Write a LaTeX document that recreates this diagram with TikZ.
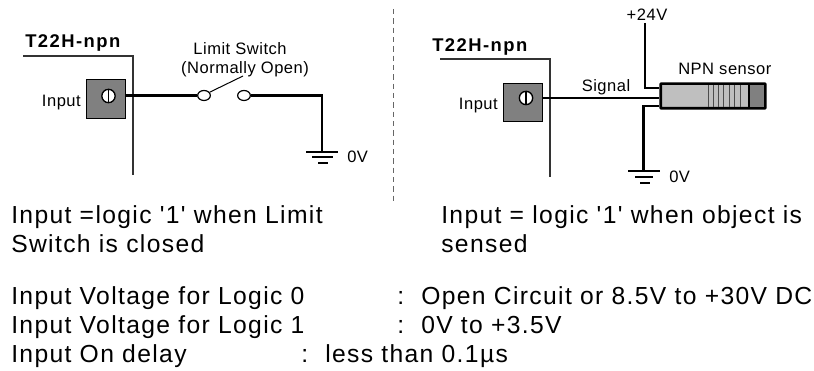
\documentclass[tikz,border=0pt]{standalone}
\usepackage{fontspec}
\setmainfont{Liberation Sans}
\newfontfamily\bodyfont[LetterSpace=5.5]{Liberation Sans}
\newfontfamily\labelfont[LetterSpace=3]{Liberation Sans}
\newfontfamily\titlefont[LetterSpace=8]{Liberation Sans}
\usetikzlibrary{arrows,shapes.geometric}
\tikzset{
  wire/.style={line width=2pt},
  case line/.style={line width=1pt,black!80},
  bar/.style={line width=1.5pt},
  contact/.style={ellipse,draw,line width=0.9pt,fill=white,inner sep=0pt,minimum width=9.5pt,minimum height=7.5pt},
  screw/.style={circle,draw,line width=1pt,fill=white,inner sep=0pt,minimum size=10pt},
  terminal/.style={rectangle,draw,line width=0.5pt,fill=gray,inner sep=0pt,minimum size=29pt},
  small label/.style={font=\labelfont\fontsize{12.4}{15}\selectfont,inner sep=0pt},
  title label/.style={font=\titlefont\fontsize{13.8}{18}\selectfont\bfseries,inner sep=0pt,anchor=base west},
  body label/.style={font=\bodyfont\fontsize{18.5}{24}\selectfont,inner sep=0pt,anchor=base west}
}
\begin{document}
\begin{tikzpicture}[line cap=butt,line join=miter,x=0.75pt,y=0.75pt]
    \useasboundingbox (0.,0.) rectangle (814.,371.);
    % left circuit
    \node[title label] (titleL) at (25.,323.) {T22H-npn};
    \coordinate (caseLa) at (23.,315.);
    \coordinate (caseLb) at (133.,315.);
    \coordinate (caseLc) at (133.,196.);
    \draw [case line] (caseLa)-- (caseLb)-- (caseLc);
    \node[terminal] (termL) at (105.5,272.) {};
    \node[screw] (screwL) at (108.5,275.) {};
    \draw [line width=1.4pt] (screwL.north)-- (screwL.south);
    \node[small label,anchor=east] (inputL) at (81.,268.) {Input};
    \node[contact] (contactA) at (204.,275.5) {};
    \node[contact] (contactB) at (244.,275.5) {};
    \coordinate (blade) at (243.,295.);
    \draw [line width=0.75pt] (contactA.30)-- (blade);
    \node[small label] (switchA) at (240.,322.) {Limit Switch};
    \node[small label] (switchB) at (245.,302.) {(Normally Open)};
    \coordinate (gndLt) at (322.,275.5);
    \coordinate (gndL) at (322.,219.);
    \draw [wire] (termL.east |- contactA)-- (contactA);
    \draw [wire] (contactB)-- (gndLt)-- (gndL);
    \draw [bar] (306.,219.)-- (338.,219.);
    \draw [bar] (312.,214.)-- (333.,214.);
    \draw [wire] (318.,208.)-- (328.,208.);
    \node[small label,anchor=base west] (zeroL) at (347.,208.) {0V};
    % divider
    \coordinate (divA) at (393.,362.);
    \coordinate (divB) at (393.,168.);
    \draw [line width=0.6pt,dash pattern=on 4pt off 3pt,gray!80!black] (divA)-- (divB);
    % right circuit
    \node[title label] (titleR) at (432.,319.) {T22H-npn};
    \coordinate (caseRa) at (440.,312.);
    \coordinate (caseRb) at (550.,312.);
    \coordinate (caseRc) at (550.,194.);
    \draw [case line] (caseRa)-- (caseRb)-- (caseRc);
    \node[terminal] (termR) at (522.5,268.5) {};
    \node[screw] (screwR) at (526.,273.) {};
    \draw [line width=1.4pt] (screwR.north)-- (screwR.south);
    \node[small label,anchor=east] (inputR) at (498.,265.) {Input};
    % sensor body
    \node[rectangle,draw,line width=2pt,rounded corners=0.5pt,fill=gray!50,minimum width=78.5pt,minimum height=18.5pt,inner sep=0pt] (sensor) at (713.,275.) {};
    \fill [gray] (749.,264.) rectangle (764.,286.);
    \draw [line width=2pt] (749.,264.)-- (749.,286.);
    \draw [line width=0.6pt,gray!60!black] (708.,264.)-- (708.,286.);
    \draw [line width=0.6pt,gray!60!black] (713.,264.)-- (713.,286.);
    \draw [line width=0.6pt,gray!60!black] (718.,264.)-- (718.,286.);
    \draw [line width=0.6pt,gray!60!black] (723.,264.)-- (723.,286.);
    \draw [line width=0.6pt,gray!60!black] (729.,264.)-- (729.,286.);
    \draw [line width=0.6pt,gray!60!black] (734.,264.)-- (734.,286.);
    \draw [line width=0.6pt,gray!60!black] (740.,264.)-- (740.,286.);
    \node[small label,anchor=base west] (npn) at (678.,296.) {NPN sensor};
    \node[small label] (signal) at (606.,284.) {Signal};
    \node[small label] (plus) at (647.,356.) {+24V};
    \coordinate (supTop) at (645.,348.);
    \coordinate (supBend) at (645.,283.);
    \coordinate (supEnd) at (sensor.west |- supBend);
    \draw [wire] (supTop)-- (supBend)-- (supEnd);
    \coordinate (sigEnd) at (sensor.west |- screwR);
    \draw [line width=1.5pt] (termR.east |- screwR)-- (sigEnd);
    \coordinate (gndRt) at (643.5,265.);
    \coordinate (gndRs) at (sensor.west |- gndRt);
    \coordinate (gndR) at (643.5,200.);
    \draw [wire] (gndRs)-- (gndRt)-- (gndR);
    \draw [bar] (628.,200.)-- (660.,200.);
    \draw [bar] (635.,194.)-- (653.,194.);
    \draw [wire] (640.,188.)-- (650.,188.);
    \node[small label,anchor=base west] (zeroR) at (669.,188.) {0V};
    % notes
    \node[body label] (noteLa) at (11.,147.) {Input =logic '1' when Limit};
    \node[body label] (noteLb) at (11.,118.) {Switch is closed};
    \node[body label] (noteRa) at (441.,147.) {Input = logic '1' when object is};
    \node[body label] (noteRb) at (441.,118.) {sensed};
    \node[body label] (specA) at (11.,66.) {Input Voltage for Logic 0};
    \node[body label] (specAc) at (397.,66.) {:};
    \node[body label] (specAv) at (421.,66.) {Open Circuit or 8.5V to +30V DC};
    \node[body label] (specB) at (11.,37.5) {Input Voltage for Logic 1};
    \node[body label] (specBc) at (397.,37.5) {:};
    \node[body label] (specBv) at (421.,37.5) {0V to +3.5V};
    \node[body label] (specC) at (11.,8.) {Input On delay};
    \node[body label] (specCc) at (301.,8.) {:};
    \node[body label] (specCv) at (325.,8.) {less than 0.1µs};
\end{tikzpicture}
\end{document}
